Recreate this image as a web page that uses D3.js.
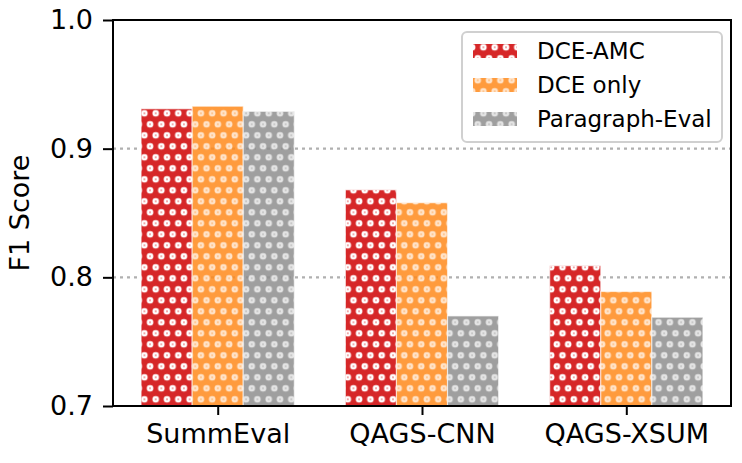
<!DOCTYPE html>
<html>
<head>
<meta charset="utf-8">
<script src="https://cdn.jsdelivr.net/npm/d3@7"></script>
<style>
  body { margin: 0; background: white; }
  text { font-family: "DejaVu Sans", sans-serif; }
</style>
</head>
<body>
<script>
// data
var categories = ["SummEval", "QAGS-CNN", "QAGS-XSUM"];
var seriesNames = ["DCE-AMC", "DCE only", "Paragraph-Eval"];
var dceAmc = [0.931, 0.868, 0.809];
var dceOnly = [0.933, 0.858, 0.789];
var paragraphEval = [0.929, 0.770, 0.769];
var yTicks = [0.7, 0.8, 0.9, 1.0];

var seriesValues = [dceAmc, dceOnly, paragraphEval];
var colors = ["#d62728", "rgb(255,137,27)", "rgb(142,142,142)"];
var barOpacity = [1, 0.85, 0.85];
var dotOpacity = [1, 0.72, 0.72];

var width = 742, height = 463;
var margin = {left: 113, right: 11, top: 20, bottom: 57};
var lineThickness = 2;

var svg = d3.select("body").append("svg")
    .attr("width", width)
    .attr("height", height);

// dotted hatch patterns (staggered rows)
var defs = svg.append("defs");
var pw = 11.3, ph = 22;
seriesNames.forEach(function (name, i) {
    var p = defs.append("pattern")
        .attr("id", "dots" + i)
        .attr("patternUnits", "userSpaceOnUse")
        .attr("width", pw)
        .attr("height", ph)
        .attr("x", 8.8)
        .attr("y", 3.3);
    [[0, 0], [pw, 0], [0, ph], [pw, ph], [pw / 2, ph / 2]].forEach(function (c) {
        p.append("circle")
            .attr("cx", c[0])
            .attr("cy", c[1])
            .attr("r", 2.0)
            .attr("fill", "none")
            .attr("stroke", "white")
            .attr("stroke-opacity", dotOpacity[i])
            .attr("stroke-width", 2.6);
    });
});

var x = d3.scaleLinear()
    .domain([-0.5125, 2.5125])
    .range([margin.left, width - margin.right]);

var y = d3.scaleLinear()
    .domain([0.7, 1.0])
    .range([height - margin.bottom, margin.top]);

var barWidth = 0.25;

// grid
svg.append("g")
    .selectAll("line")
    .data(yTicks.slice(1))
    .enter().append("line")
    .attr("x1", x.range()[0])
    .attr("x2", x.range()[1])
    .attr("y1", function (d) { return y(d); })
    .attr("y2", function (d) { return y(d); })
    .attr("stroke", "#b0b0b0")
    .attr("stroke-width", 2.2)
    .attr("stroke-dasharray", "3,4");

// bars
seriesValues.forEach(function (values, s) {
    var g = svg.append("g");
    var offset = (s - 1) * barWidth;
    g.selectAll("rect.fill")
        .data(values)
        .enter().append("rect")
        .attr("x", function (d, i) { return x(i + offset - barWidth / 2); })
        .attr("width", x(barWidth) - x(0))
        .attr("y", function (d) { return y(d); })
        .attr("height", function (d) { return y(0.7) - y(d); })
        .attr("fill", colors[s])
        .attr("fill-opacity", barOpacity[s]);
    g.selectAll("rect.hatch")
        .data(values)
        .enter().append("rect")
        .attr("x", function (d, i) { return x(i + offset - barWidth / 2); })
        .attr("width", x(barWidth) - x(0))
        .attr("y", function (d) { return y(d); })
        .attr("height", function (d) { return y(0.7) - y(d); })
        .attr("fill", "url(#dots" + s + ")")
        .attr("stroke", "white")
        .attr("stroke-opacity", 0.6)
        .attr("stroke-width", 1.2);
});

// axes
var xAxis = d3.axisBottom(x)
    .tickValues(d3.range(categories.length))
    .tickFormat(function (d) { return categories[d]; })
    .tickSize(9)
    .tickPadding(9);

var yAxis = d3.axisLeft(y)
    .tickValues(yTicks)
    .tickFormat(d3.format(".1f"))
    .tickSize(10)
    .tickPadding(10);

var gx = svg.append("g")
    .attr("transform", "translate(0," + (height - margin.bottom) + ")")
    .call(xAxis);
var gy = svg.append("g")
    .attr("transform", "translate(" + margin.left + ",0)")
    .call(yAxis);

[gx, gy].forEach(function (g) {
    g.select(".domain").remove();
    g.selectAll("line").attr("stroke", "black").attr("stroke-width", lineThickness);
    g.selectAll("text")
        .attr("fill", "black")
        .style("font-size", "27px");
});

// frame
svg.append("rect")
    .attr("x", margin.left)
    .attr("y", margin.top)
    .attr("width", width - margin.left - margin.right)
    .attr("height", height - margin.top - margin.bottom)
    .attr("fill", "none")
    .attr("stroke", "black")
    .attr("stroke-width", lineThickness);

// y label
svg.append("text")
    .attr("transform", "translate(29," + ((margin.top + height - margin.bottom) / 2) + ") rotate(-90)")
    .attr("text-anchor", "middle")
    .style("font-size", "27px")
    .text("F1 Score");

// legend
var legend = svg.append("g");
legend.append("rect")
    .attr("x", 462)
    .attr("y", 32)
    .attr("width", 260)
    .attr("height", 110)
    .attr("rx", 5)
    .attr("fill", "white")
    .attr("fill-opacity", 0.8)
    .attr("stroke", "#d0d0d0")
    .attr("stroke-width", 2);

seriesNames.forEach(function (name, i) {
    var cy = 51 + i * 34;
    legend.append("rect")
        .attr("x", 473)
        .attr("y", cy - 7)
        .attr("width", 44)
        .attr("height", 14)
        .attr("fill", colors[i])
        .attr("fill-opacity", barOpacity[i]);
    legend.append("rect")
        .attr("x", 473)
        .attr("y", cy - 7)
        .attr("width", 44)
        .attr("height", 14)
        .attr("fill", "url(#dots" + i + ")");
    legend.append("text")
        .attr("x", 537)
        .attr("y", cy)
        .attr("dy", "0.35em")
        .style("font-size", "23px")
        .text(name);
});
</script>
</body>
</html>
